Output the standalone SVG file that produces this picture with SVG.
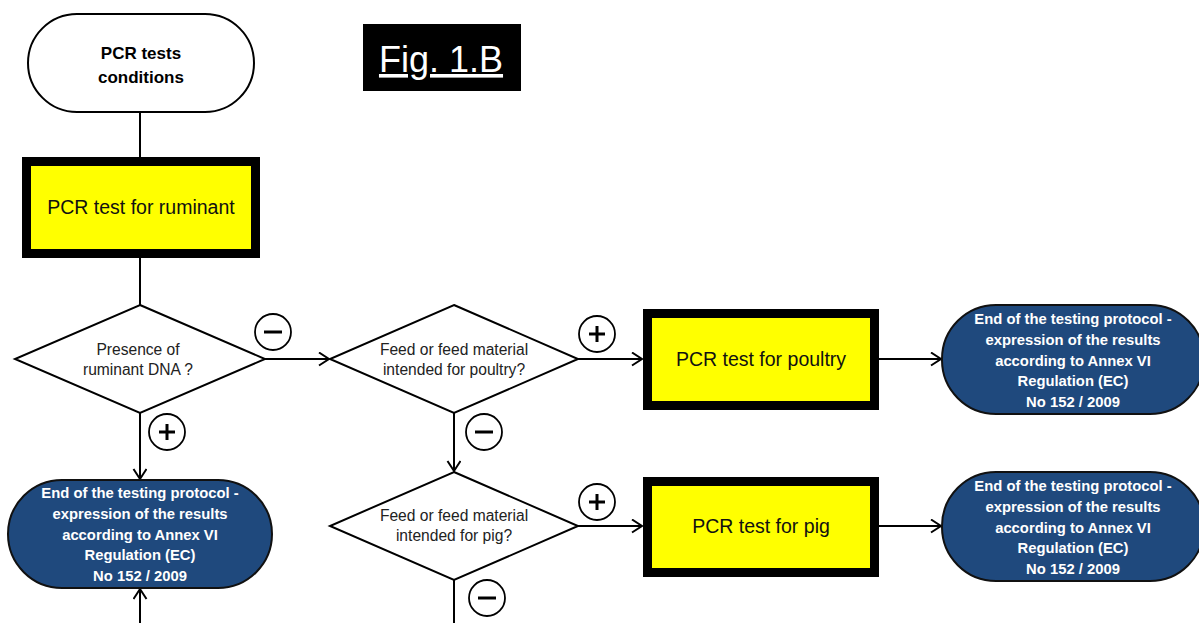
<svg xmlns="http://www.w3.org/2000/svg" width="1199" height="623" viewBox="0 0 1199 623">
  <style>
    .term { fill: #ffffff; stroke: #000; stroke-width: 2; }
    .end { fill: #1F497D; stroke: #111; stroke-width: 2; }
    .proc { fill: #FFFF00; stroke: #000; stroke-width: 9; }
    .dec { fill: #ffffff; stroke: #000; stroke-width: 2; }
    .conn { fill: none; stroke: #000; stroke-width: 2; }
    .sym { fill: #fff; stroke: #000; stroke-width: 1.8; }
    .sign { stroke: #000; stroke-width: 3; }
    .t-start { font-family: "Liberation Sans", Arial, sans-serif; font-weight: bold; font-size: 17px; fill: #000; text-anchor: middle; }
    .t-proc { font-family: "Liberation Sans", Arial, sans-serif; font-size: 19.5px; fill: #111; text-anchor: middle; }
    .t-dec { font-family: "Liberation Sans", Arial, sans-serif; font-size: 15.6px; fill: #222; text-anchor: middle; }
    .t-end { font-family: "Liberation Sans", Arial, sans-serif; font-weight: bold; font-size: 14.8px; fill: #fff; text-anchor: middle; }
    .t-fig { font-family: "Liberation Sans", Arial, sans-serif; font-size: 36px; fill: #fff; text-anchor: middle; text-decoration: underline; }
  </style>
  <defs>
    <marker id="arrow" markerUnits="userSpaceOnUse" markerWidth="14" markerHeight="16" refX="11" refY="7" orient="auto">
      <path d="M1,0.5 L11,7 L1,13.5" fill="none" stroke="#000" stroke-width="2"/>
    </marker>
  </defs>

  <rect width="1199" height="623" fill="#ffffff"/>

  <g id="connectors">
    <line class="conn" x1="140" y1="112" x2="140" y2="157"/>
    <line class="conn" x1="140" y1="258" x2="140" y2="305"/>
    <line class="conn" x1="265" y1="359" x2="329" y2="359" marker-end="url(#arrow)"/>
    <line class="conn" x1="140" y1="413" x2="140" y2="479" marker-end="url(#arrow)"/>
    <line class="conn" x1="578" y1="359" x2="642" y2="359" marker-end="url(#arrow)"/>
    <line class="conn" x1="879" y1="359" x2="941" y2="359" marker-end="url(#arrow)"/>
    <line class="conn" x1="454" y1="413" x2="454" y2="471" marker-end="url(#arrow)"/>
    <line class="conn" x1="578" y1="526" x2="642" y2="526" marker-end="url(#arrow)"/>
    <line class="conn" x1="879" y1="526" x2="941" y2="526" marker-end="url(#arrow)"/>
    <line class="conn" x1="454" y1="580" x2="454" y2="623"/>
    <line class="conn" x1="140" y1="623" x2="140" y2="589" marker-end="url(#arrow)"/>
  </g>

  <g id="start">
    <rect class="term" x="28" y="14" width="226" height="98" rx="49" ry="49"/>
    <text class="t-start" x="141" y="59">PCR tests</text>
    <text class="t-start" x="141" y="83">conditions</text>
  </g>

  <g id="fig-label">
    <rect x="363" y="24" width="158" height="67" fill="#000"/>
    <text class="t-fig" x="441" y="72">Fig. 1.B</text>
  </g>

  <g id="pcr-ruminant">
    <rect class="proc" x="26.5" y="161.5" width="229" height="92"/>
    <text class="t-proc" x="141" y="214">PCR test for ruminant</text>
  </g>

  <g id="decision-ruminant">
    <polygon class="dec" points="140,305 265,359 140,413 15,359"/>
    <text class="t-dec" x="138" y="355">Presence of</text>
    <text class="t-dec" x="138" y="375">ruminant DNA ?</text>
  </g>

  <g id="decision-poultry">
    <polygon class="dec" points="454,305 578,359 454,413 330,359"/>
    <text class="t-dec" x="454" y="355">Feed or feed material</text>
    <text class="t-dec" x="454" y="375">intended for poultry?</text>
  </g>

  <g id="decision-pig">
    <polygon class="dec" points="454,472 578,526 454,580 330,526"/>
    <text class="t-dec" x="454" y="521">Feed or feed material</text>
    <text class="t-dec" x="454" y="541">intended for pig?</text>
  </g>

  <g id="pcr-poultry">
    <rect class="proc" x="647.5" y="313.5" width="227" height="92"/>
    <text class="t-proc" x="761" y="366">PCR test for poultry</text>
  </g>

  <g id="pcr-pig">
    <rect class="proc" x="647.5" y="481.5" width="227" height="91"/>
    <text class="t-proc" x="761" y="533">PCR test for pig</text>
  </g>

  <g id="end-ruminant">
    <rect class="end" x="8" y="480" width="264" height="108" rx="54" ry="54"/>
    <text class="t-end" x="140" y="498">End of the testing protocol -</text>
    <text class="t-end" x="140" y="519">expression of the results</text>
    <text class="t-end" x="140" y="539.5">according to Annex VI</text>
    <text class="t-end" x="140" y="560">Regulation (EC)</text>
    <text class="t-end" x="140" y="580.5">No 152 / 2009</text>
  </g>

  <g id="end-poultry">
    <rect class="end" x="942" y="305" width="262" height="109" rx="54" ry="54"/>
    <text class="t-end" x="1073" y="324">End of the testing protocol -</text>
    <text class="t-end" x="1073" y="345">expression of the results</text>
    <text class="t-end" x="1073" y="365.5">according to Annex VI</text>
    <text class="t-end" x="1073" y="386">Regulation (EC)</text>
    <text class="t-end" x="1073" y="406.5">No 152 / 2009</text>
  </g>

  <g id="end-pig">
    <rect class="end" x="942" y="472" width="262" height="109" rx="54" ry="54"/>
    <text class="t-end" x="1073" y="491">End of the testing protocol -</text>
    <text class="t-end" x="1073" y="512">expression of the results</text>
    <text class="t-end" x="1073" y="532.5">according to Annex VI</text>
    <text class="t-end" x="1073" y="553">Regulation (EC)</text>
    <text class="t-end" x="1073" y="573.5">No 152 / 2009</text>
  </g>

  <g id="minus-1">
    <circle class="sym" cx="273" cy="332" r="18"/>
    <line class="sign" x1="264" y1="332" x2="282" y2="332"/>
  </g>
  <g id="minus-2">
    <circle class="sym" cx="484" cy="432" r="18"/>
    <line class="sign" x1="475" y1="432" x2="493" y2="432"/>
  </g>
  <g id="minus-3">
    <circle class="sym" cx="487" cy="598" r="18"/>
    <line class="sign" x1="478" y1="598" x2="496" y2="598"/>
  </g>
  <g id="plus-1">
    <circle class="sym" cx="167" cy="432" r="18"/>
    <line class="sign" x1="159" y1="432" x2="175" y2="432"/>
    <line class="sign" x1="167" y1="424" x2="167" y2="440"/>
  </g>
  <g id="plus-2">
    <circle class="sym" cx="597" cy="334" r="18"/>
    <line class="sign" x1="589" y1="334" x2="605" y2="334"/>
    <line class="sign" x1="597" y1="326" x2="597" y2="342"/>
  </g>
  <g id="plus-3">
    <circle class="sym" cx="597" cy="502" r="18"/>
    <line class="sign" x1="589" y1="502" x2="605" y2="502"/>
    <line class="sign" x1="597" y1="494" x2="597" y2="510"/>
  </g>
</svg>
